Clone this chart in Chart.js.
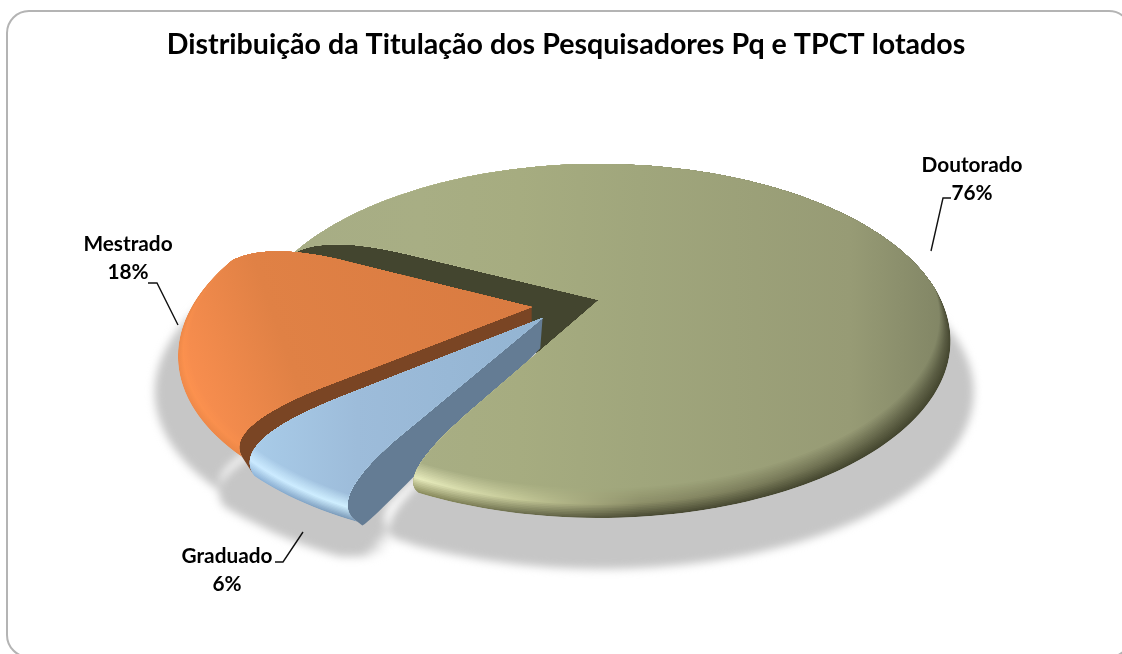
<!DOCTYPE html>
<html><head><meta charset="utf-8">
<style>html,body{margin:0;padding:0;background:#fff;overflow:hidden}canvas{display:block}</style>
<script src="https://cdn.jsdelivr.net/npm/chart.js@4"></script>
</head><body><canvas id="c" width="1122" height="654"></canvas>
<script>
const categories=['Doutorado','Graduado','Mestrado'];
const values=[76,6,18];
const chartTitle='Distribuição da Titulação dos Pesquisadores Pq e TPCT lotados';
const baseColors=['#a0a67c','#97b8d6','#dd7d42'];

// view of the tilted disc
const AX=599,AY=300,FX=342,GY=167.5,K=0.2316;
const DEG=Math.PI/180;
const explode=[[0,0],[-0.161,0.105],[-0.195,0.0414]];
const radii=[1,0.985,0.985];
const twists=[[8.4,5],[7,10],[9,9]];
const bevelDrop=[21,15,8];
const shadowParts=[[0,0,51],[0,-15,46],[1,-12,30],[1,0,36],[1,6,36],[1,12,36],[1,18,36],[1,25,36],[1,32,34],[1,40,30],[1,46,22],[1,50,14],[2,0,36]];
const labelAnchors=[[972,165],[227,556],[128,244]];
const leaders=[[[951,198],[943,198],[931,251]],[[275,562],[283,562],[303,532]],[[148,283],[157,283],[178,325]]];
const gradientAxes=[[300,0,950,0],[256,0,540,0],[190,425,530,305]];
const palettes=[
 [{f:0,e:'#8d8f60',h:'#b0b68e',b:'#a7ad85'},{f:0.185,e:'#8d8f60',h:'#e6eabb',b:'#a8ae84'},{f:0.338,e:'#6e7050',h:'#c4c897',b:'#a6ac80'},{f:0.523,e:'#4b4c35',h:'#8e9069',b:'#a0a67c'},{f:0.846,e:'#44462f',h:'#6c6e50',b:'#979b75'},{f:1,e:'#44462f',h:'#5a5c43',b:'#808464'}],
 [{f:0,e:'#8fb4d8',h:'#cbeaff',b:'#a8cbe8'},{f:0.356,e:'#7b99b6',h:'#d0f0ff',b:'#9dbcda'},{f:1,e:'#7b99b6',h:'#b0d0ec',b:'#93b4d2'}],
 [{f:0,e:'#f08a4a',h:'#ff9350',b:'#fc9050'},{f:0.32,e:'#e08040',h:'#e48245',b:'#e08145'},{f:1,e:'#d97b41',h:'#d97b41',b:'#d97b41'}]
];
const wallColors={dark:'#43452f',blue:'#647c94',brown:'#7a4524'};

function P(p){const w=1-K*p[1];return [AX+FX*p[0]/w,AY+GY*p[1]/w];}
function ray(o,a,r){return [o[0]+r*Math.cos(a),o[1]+r*Math.sin(a)];}
function bez(a,c,b,n){const o=[];for(let i=0;i<=n;i++){const t=i/n,u=1-t;o.push([u*u*a[0]+2*u*t*c[0]+t*t*b[0],u*u*a[1]+2*u*t*c[1]+t*t*b[1]]);}return o;}
function edge(o,a,R,tw){ // apex to rim corner, in plane coordinates
  return [o,...bez(ray(o,a,0.66*R),ray(o,a,0.97*R),ray(o,a-tw*DEG,R),24)];
}
function rim(o,a,b,R){const n=Math.ceil(Math.abs(b-a)*40),r=[];for(let i=0;i<=n;i++)r.push(ray(o,a+(b-a)*i/n,R));return r;}
function outline(o,s,e,R,tw){return [...edge(o,s,R,tw[0]),...rim(o,s-tw[0]*DEG,e-tw[1]*DEG,R),...edge(o,e,R,tw[1]).reverse()].map(P);}
function trace(c,pts){c.beginPath();pts.forEach((p,i)=>i?c.lineTo(p[0],p[1]):c.moveTo(p[0],p[1]));c.closePath();}
function hex(s){return [1,3,5].map(i=>parseInt(s.substr(i,2),16));}
function mix(a,b,t){const A=hex(a),B=hex(b);return 'rgb('+A.map((v,i)=>Math.round(v+(B[i]-v)*t)).join(',')+')';}
function mix3(st,t){const c=t<0.45?[st.e,st.h,t/0.45]:[st.h,st.b,(t-0.45)/0.55];return mix(c[0],c[1],c[2]);}

function shadeTop(c,i,pts,o,R){
  const pal=palettes[i],ax=gradientAxes[i],N=18,s=0.03,h=bevelDrop[i];
  c.save();trace(c,pts);c.clip();
  for(let k=0;k<=N;k++){
    const t=k/N,g=c.createLinearGradient(ax[0],ax[1],ax[2],ax[3]);
    pal.forEach(st=>g.addColorStop(st.f,mix3(st,t)));
    c.fillStyle=g;
    const ell=rim(o,0,Math.PI*2,R*(1-s*t)).map(P).map(p=>[p[0],p[1]-h*t]);
    trace(c,ell);c.fill();
  }
  c.restore();
}

const drawPie={id:'drawPie',
  beforeDraw(chart){
    const c=chart.ctx;c.save();c.fillStyle='#fff';c.fillRect(0,0,chart.width,chart.height);
    c.strokeStyle='#b4b4b4';c.lineWidth=2;c.beginPath();c.roundRect(7,11,1124,646,22);c.stroke();c.restore();
  },
  beforeDatasetsDraw(chart){
    const c=chart.ctx,arcs=chart.getDatasetMeta(0).data;
    const ang=arcs.map(a=>a.getProps(['startAngle','endAngle'],true));
    const tops=ang.map((a,i)=>outline(explode[i],a.startAngle,a.endAngle,radii[i],twists[i]));
    // soft cast shadow
    c.save();c.filter='blur(4.5px)';c.fillStyle='#c6c6c6';
    c.beginPath();
    shadowParts.forEach(d=>{
      tops[d[0]].map(p=>[565+(p[0]-565)*1.06+d[1],p[1]+d[2]]).forEach((p,i)=>i?c.lineTo(p[0],p[1]):c.moveTo(p[0],p[1]));
      c.closePath();
    });
    c.fill('nonzero');
    c.restore();
    // inner wall of the large slice
    const o0=explode[0],e1=edge(o0,ang[0].startAngle,radii[0],twists[0][0]).map(P);
    const e2=P(ray(o0,ang[0].endAngle,0.34));
    c.fillStyle=wallColors.dark;trace(c,[...e1,e2]);c.fill();
    // wall of the light-blue slice
    const og=explode[1],ge=edge(og,ang[1].startAngle,radii[1],twists[1][0]);
    const corner=ge[ge.length-1],og2=[og[0],og[1]+0.165],wa=115.4*DEG;
    const low=[og2,...bez(ray(og2,wa,0.62),ray(og2,wa,0.83),[corner[0]+0.012,corner[1]+0.012],16),corner];
    c.fillStyle=wallColors.blue;trace(c,[...ge.map(P),...low.reverse().map(P)]);c.fill();
    // large slice top
    shadeTop(c,0,tops[0],explode[0],radii[0]);
    // wall of the orange slice
    const om=explode[2],oe=edge(om,ang[2].startAngle,radii[2],twists[2][0]).map(P);
    const all=edge(og,ang[1].endAngle,radii[1],twists[1][1]).map(P);
    const tt=(oe[0][0]-all[0][0])/(all[1][0]-all[0][0]);
    const be=[[oe[0][0],all[0][1]+tt*(all[1][1]-all[0][1])],...all.slice(1)];
    c.fillStyle=wallColors.brown;trace(c,[...oe,...be.reverse()]);c.fill();
    shadeTop(c,1,tops[1],explode[1],radii[1]);
    shadeTop(c,2,tops[2],explode[2],radii[2]);
    // leader lines and labels
    c.strokeStyle='#111';c.lineWidth=1.4;
    leaders.forEach(l=>{c.beginPath();l.forEach((p,i)=>i?c.lineTo(p[0],p[1]):c.moveTo(p[0],p[1]));c.stroke();});
    c.fillStyle='#000';c.font='bold 20.8px Lato';c.textAlign='center';c.textBaseline='middle';
    const total=values.reduce((a,b)=>a+b,0);
    categories.forEach((n,i)=>{const a=labelAnchors[i];
      c.fillText(n,a[0],a[1]);c.fillText(Math.round(values[i]/total*100)+'%',a[0],a[1]+28);});
    return false;
  }
};

new Chart(document.getElementById('c').getContext('2d'),{
  type:'pie',
  data:{labels:categories,datasets:[{data:values,backgroundColor:baseColors,borderWidth:0}]},
  options:{responsive:false,animation:false,devicePixelRatio:1,rotation:296,
    layout:{padding:{left:10}},
    plugins:{legend:{display:false},tooltip:{enabled:false},
      title:{display:true,text:chartTitle,color:'#000',font:{family:'Lato',size:28.6,weight:'bold'},padding:{top:28,bottom:10}}}},
  plugins:[drawPie]
});
</script></body></html>
